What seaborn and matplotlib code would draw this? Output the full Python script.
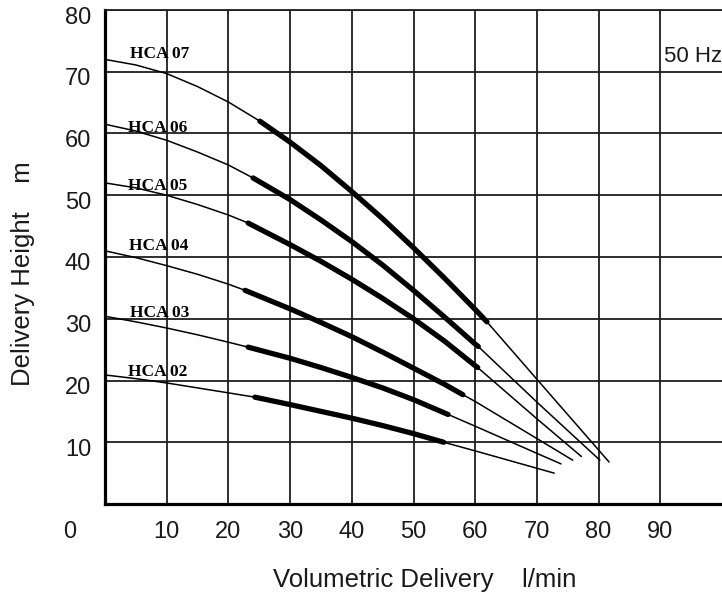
import matplotlib
matplotlib.use("Agg")
import matplotlib.pyplot as plt
import seaborn as sns
import pandas as pd
from matplotlib.transforms import ScaledTranslation

# pump curves: flow in l/min, head in m
models = ['HCA 07', 'HCA 06', 'HCA 05', 'HCA 04', 'HCA 03', 'HCA 02']

flow_07 = [0, 5, 10, 15, 20, 25.1, 30, 35, 40, 45, 50, 55, 60, 61.9, 70, 81.7]
head_07 = [72.0, 71.1, 69.7, 67.6, 65.1, 62.0, 58.6, 54.8, 50.6, 46.2, 41.5, 36.6, 31.5, 29.5, 20.2, 6.8]

flow_06 = [0, 5, 10, 15, 20, 24.0, 30, 35, 40, 45, 50, 55, 60, 60.5, 70, 80.2]
head_06 = [61.5, 60.4, 58.9, 57.0, 54.9, 52.8, 49.3, 46.0, 42.5, 38.7, 34.6, 30.3, 25.9, 25.5, 16.5, 7.1]

flow_05 = [0, 5, 10, 15, 20, 23.2, 30, 35, 40, 45, 50, 55, 60, 60.4, 70, 77.2]
head_05 = [52.0, 51.2, 50.0, 48.5, 46.8, 45.5, 42.0, 39.3, 36.4, 33.3, 30.0, 26.4, 22.4, 22.1, 13.8, 7.7]

flow_04 = [0, 5, 10, 15, 20, 22.7, 30, 35, 40, 45, 50, 55, 58.0, 60, 70, 75.8]
head_04 = [41.0, 39.9, 38.6, 37.2, 35.6, 34.6, 31.6, 29.4, 27.1, 24.6, 22.0, 19.4, 17.7, 16.6, 10.6, 7.1]

flow_03 = [0, 5, 10, 15, 20, 23.2, 30, 35, 40, 45, 50, 55.6, 60, 70, 73.9]
head_03 = [30.4, 29.5, 28.5, 27.4, 26.2, 25.4, 23.6, 22.1, 20.5, 18.8, 16.9, 14.5, 12.6, 8.2, 6.5]

flow_02 = [0, 5, 10, 15, 20, 24.3, 30, 35, 40, 45, 50, 54.9, 60, 72.8]
head_02 = [20.9, 20.3, 19.6, 18.8, 18.0, 17.3, 16.1, 15.0, 13.9, 12.7, 11.4, 10.0, 8.6, 5.0]

# recommended working range (bold part of each curve)
duty_start = [25.1, 24.0, 23.2, 22.7, 23.2, 24.3]
duty_end = [61.9, 60.5, 60.4, 58.0, 55.6, 54.9]

x_ticks = [10, 20, 30, 40, 50, 60, 70, 80, 90]
y_ticks = [10, 20, 30, 40, 50, 60, 70, 80]

flows = [flow_07, flow_06, flow_05, flow_04, flow_03, flow_02]
heads = [head_07, head_06, head_05, head_04, head_03, head_02]

frames = []
for m, q, h in zip(models, flows, heads):
    frames.append(pd.DataFrame({'model': m, 'flow': q, 'head': h}))
df = pd.concat(frames, ignore_index=True)

duty = []
for m, a, b in zip(models, duty_start, duty_end):
    part = df[(df['model'] == m) & (df['flow'] >= a) & (df['flow'] <= b)]
    duty.append(part)
df_duty = pd.concat(duty, ignore_index=True)

sns.set_theme(style='white')
plt.rcParams['font.family'] = ['Liberation Sans', 'DejaVu Sans']

fig = plt.figure(figsize=(7.22, 5.96), dpi=100)
ax = fig.add_axes([105 / 722, 1 - 504 / 596, 617 / 722, 494 / 596])

sns.lineplot(data=df, x='flow', y='head', units='model', estimator=None,
             sort=False, color='black', lw=1.1, ax=ax)
sns.lineplot(data=df_duty, x='flow', y='head', units='model', estimator=None,
             sort=False, color='black', lw=3.8, ax=ax,
             solid_capstyle='round', solid_joinstyle='round')

ax.set_xlim(0, 100)
ax.set_ylim(0, 80)
ax.set_xticks(x_ticks)
ax.set_yticks(y_ticks)
ax.grid(True, color='#1e1e1e', lw=1.3)
ax.set_axisbelow(True)
ax.tick_params(axis='both', length=0, labelsize=17, colors='#1a1a1a')
ax.tick_params(axis='x', pad=12)
ax.tick_params(axis='y', pad=10)
for lab in ax.get_yticklabels():
    lab.set_transform(lab.get_transform() + ScaledTranslation(0, -0.05, fig.dpi_scale_trans))

ax.spines['left'].set_linewidth(2.3)
ax.spines['bottom'].set_linewidth(2.3)
ax.spines['left'].set_color('black')
ax.spines['bottom'].set_color('black')
ax.spines['top'].set_linewidth(1.3)
ax.spines['top'].set_color('#1e1e1e')
ax.spines['right'].set_visible(False)

ax.set_xlabel('')
ax.set_ylabel('')

# the lone "0" sits left of the corner
ax.annotate('0', xy=(-5.8, 0), xytext=(0, -12.5), textcoords='offset points',
            ha='center', va='top', fontsize=17, color='#1a1a1a',
            annotation_clip=False)

label_pos = [(4.0, 72.2), (3.7, 60.2), (3.7, 50.9), (3.9, 41.1), (4.0, 30.3), (3.7, 20.7)]
for m, (lx, ly) in zip(models, label_pos):
    ax.text(lx, ly, m, fontsize=12.5, fontweight='bold',
            family='Liberation Serif', va='baseline', ha='left', color='black')

ax.text(90.6, 72.4, '50 Hz', fontsize=16, va='center', ha='left', color='#1a1a1a')

fig.text(23 / 722, 1 - 274 / 596, 'Delivery Height    m', rotation=90,
         ha='center', va='center', fontsize=18.5, color='#1a1a1a')
fig.text(425 / 722, 1 - 580 / 596, 'Volumetric Delivery    l/min',
         ha='center', va='center', fontsize=18.5, color='#1a1a1a')

fig.savefig('out.png', dpi=100)
